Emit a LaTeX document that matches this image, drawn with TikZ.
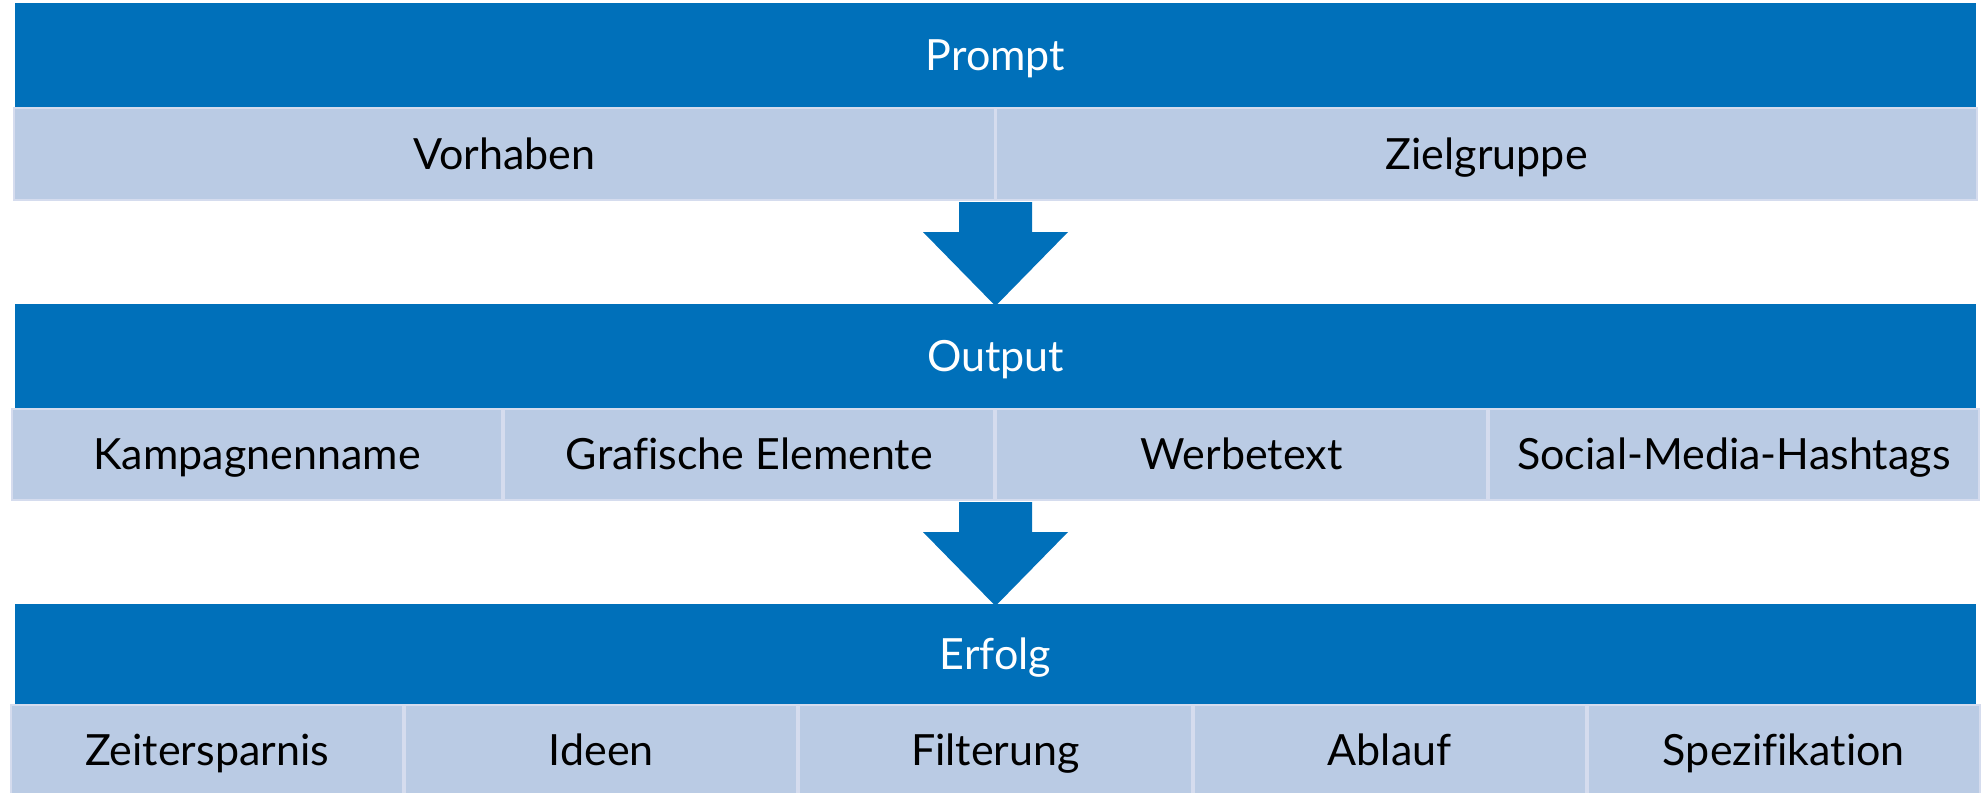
\documentclass[tikz,border=0pt]{standalone}
\usepackage{fontspec}
\setmainfont[Ligatures=NoCommon]{Lato}
\usetikzlibrary{positioning,matrix}
\definecolor{hdrblue}{RGB}{0,112,186}
\definecolor{cellblue}{RGB}{186,203,228}
\definecolor{celledge}{RGB}{213,220,238}

\begin{document}
\begin{tikzpicture}[x=0.5pt,y=-0.5pt]
\tikzset{
  hdr/.style={
    fill=hdrblue,
    text=white,
    minimum width=980.5pt,
    minimum height=52pt,
    inner sep=0pt,
    outer sep=0pt,
    text height=15pt,
    text depth=0pt,
    font=\fontsize{21.5}{26}\selectfont
  },
  mrow/.style={
    matrix of nodes,
    inner sep=0pt,
    outer sep=0pt,
    column sep=0pt,
    nodes={
      fill=cellblue,
      draw=celledge,
      line width=1pt,
      minimum height=46pt,
      inner sep=0pt,
      outer sep=0pt,
      text height=15pt,
      text depth=0pt,
      anchor=center,
      font=\fontsize{21.5}{26}\selectfont
    }
  }
};

\useasboundingbox (0,0) rectangle (1983,793);

 \node[hdr,anchor=north west] (prompt) at (15,3) {Prompt};
 \matrix (m1) [mrow,below=0pt of prompt,nodes={minimum width=490.25pt}]
 {
    Vorhaben & Zielgruppe \\
 };

 \node[hdr,below=51.5pt of m1] (output) {Output};
 \matrix (m2) [mrow,below=0pt of output,nodes={minimum width=245.125pt,minimum height=45.5pt}]
 {
    Kampagnenname & Grafische Elemente & Werbetext & Social-Media-Hashtags \\
 };

 \node[hdr,minimum height=50pt,below=51.5pt of m2] (erfolg) {Erfolg};
 \matrix (m3) [mrow,below=0pt of erfolg,nodes={minimum width=196.1pt,minimum height=45pt}]
 {
    Zeitersparnis & Ideen & Filterung & Ablauf & Spezifikation \\
 };

  % block arrows between the stages
  \foreach \a/\b in {m1/output, m2/erfolg} {
    \coordinate (tip) at ([yshift=-1pt]\b.north);
    \fill[hdrblue] ([xshift=-18.25pt,yshift=-0.5pt]\a.south)
      -- ([xshift=18.25pt,yshift=-0.5pt]\a.south)
      -- ([xshift=18.25pt,yshift=37pt]tip)
      -- ([xshift=36.25pt,yshift=37pt]tip)
      -- (tip)
      -- ([xshift=-36.25pt,yshift=37pt]tip)
      -- ([xshift=-18.25pt,yshift=37pt]tip) -- cycle;
  }
\end{tikzpicture}
\end{document}
